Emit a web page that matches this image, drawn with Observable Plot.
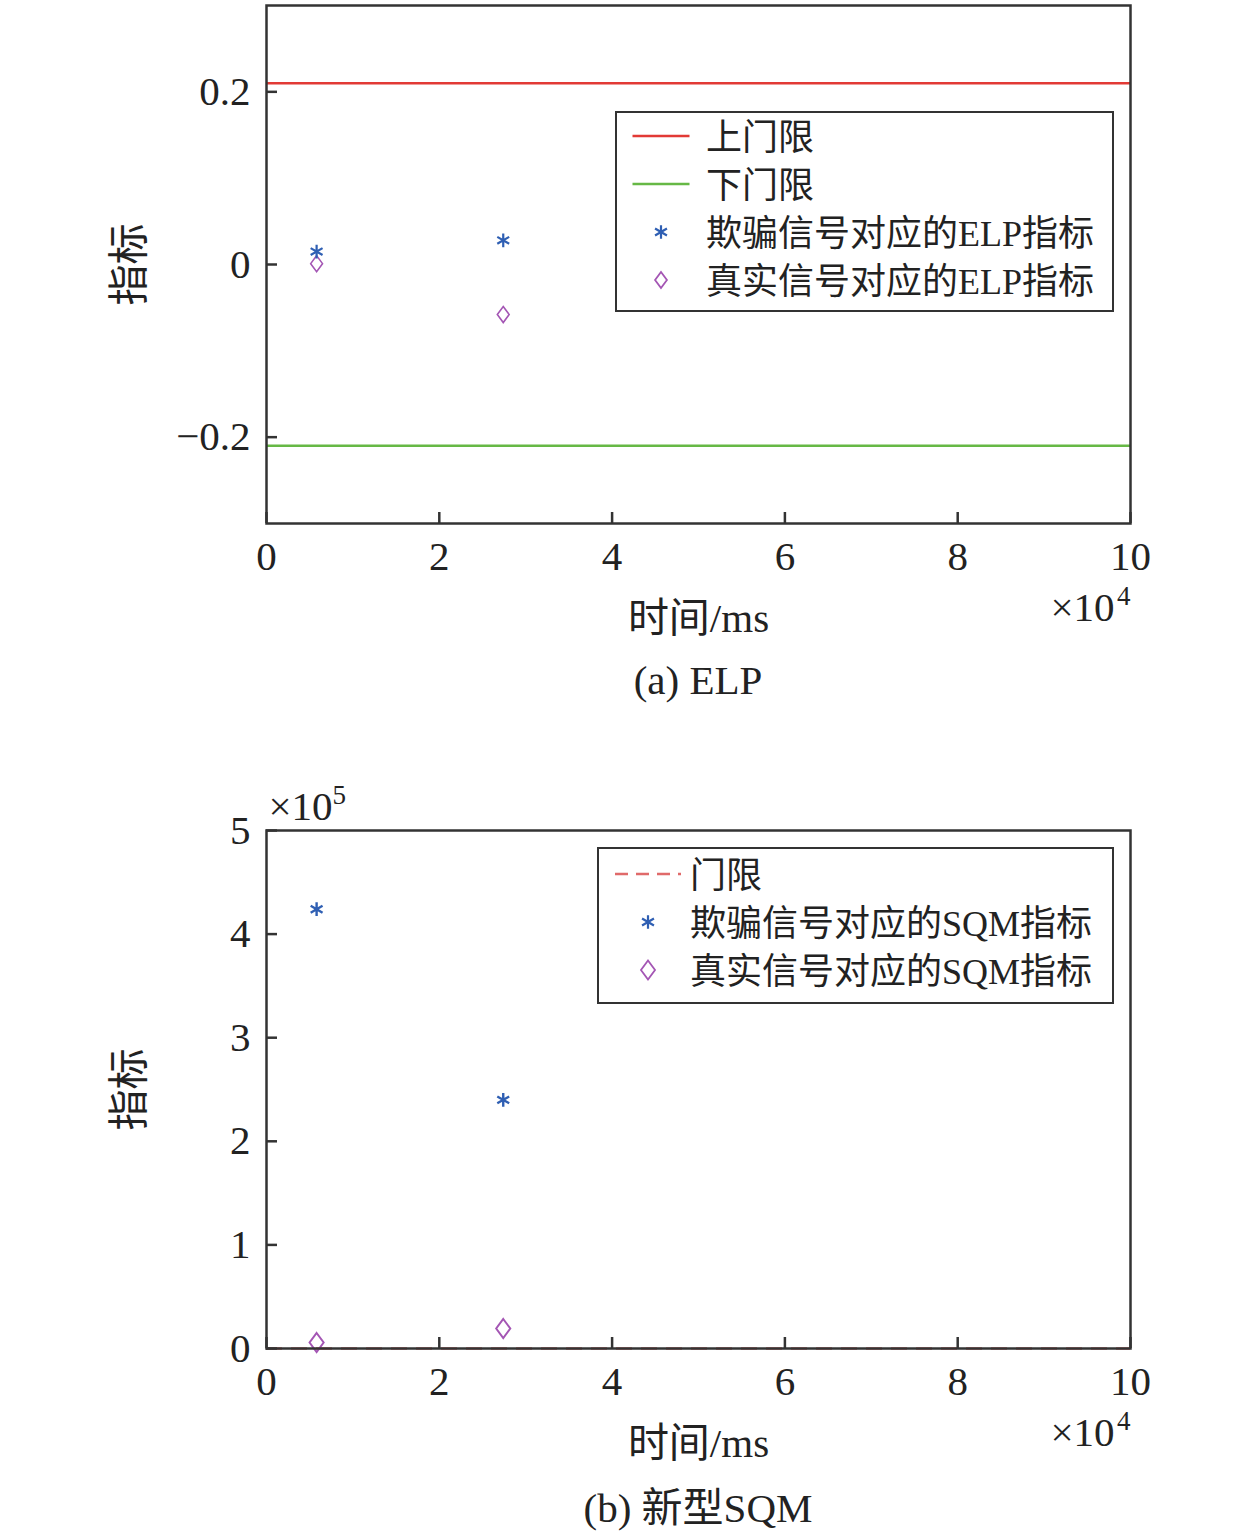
<!DOCTYPE html>
<html><head><meta charset="utf-8">
<script src="https://cdn.jsdelivr.net/npm/d3@7"></script>
<script src="https://cdn.jsdelivr.net/npm/@observablehq/plot@0.6"></script>
<style>
body{margin:0;background:#fff;font-family:"Liberation Serif","Noto Sans CJK SC",serif;color:#222;}
#wrap{position:relative;width:1260px;}
.cap{height:60px;line-height:60px;text-align:center;font-size:41px;color:#222;white-space:nowrap;width:1260px;box-sizing:border-box;padding-left:136px;}
.legend{position:absolute;border:2px solid #333;background:#fff;box-sizing:border-box;font-size:36px;color:#222;}
.row{position:absolute;left:0;height:48px;width:100%;}
.row svg{position:absolute;left:0;top:0;}
.row span{position:absolute;top:0;line-height:48px;white-space:nowrap;}
</style></head>
<body><div id="wrap"></div>
<script>
// ---------- data ----------
const xTicks = [0, 20000, 40000, 60000, 80000, 100000];
const times = [5800, 27400];                 // ms
const elpSpoof = [0.015, 0.028];
const elpReal = [0.001, -0.058];
const elpUpper = [0.21];
const elpLower = [-0.21];
const elpYTicks = [-0.2, 0, 0.2];
const sqmSpoof = [424000, 240000];
const sqmReal = [5800, 19300];
const sqmThreshold = [0];
const sqmYTicks = [0, 100000, 200000, 300000, 400000, 500000];
const captionA = "(a) ELP";
const captionB = "(b) 新型SQM";
const legendA = ["上门限", "下门限", "欺骗信号对应的ELP指标", "真实信号对应的ELP指标"];
const legendB = ["门限", "欺骗信号对应的SQM指标", "真实信号对应的SQM指标"];

// ---------- style ----------
const W = 1260, ML = 266, MR = 130;
const FONT = '"Liberation Serif","Noto Sans CJK SC",serif';
const RED = "#e23a35", GREEN = "#66b845", BLUE = "#2f5fb3", PURPLE = "#a456b4", DASHRED = "#e06a6a", INK = "#333";

const diamond = {
  draw(ctx, size) {
    const r = Math.sqrt(size / Math.PI);
    const h = r, w = r * 0.74;
    ctx.moveTo(0, -h); ctx.lineTo(w, 0); ctx.lineTo(0, h); ctx.lineTo(-w, 0); ctx.closePath();
  }
};

const T = (s, o) => Plot.text([s], {text: d => d, fontSize: 41, fill: "#222", lineAnchor: "middle", ...o});

function chart({height, marginTop, marginBottom, yDomain, yTicks, yFmt, marks, exp}) {
  const plotH = height - marginTop - marginBottom;
  const plotW = W - ML - MR;
  return Plot.plot({
    width: W, height, marginLeft: ML, marginRight: MR, marginTop, marginBottom,
    style: {fontFamily: FONT, fontSize: "41px", color: "#222", background: "#fff", overflow: "visible"},
    x: {domain: [0, 100000], ticks: xTicks, tickFormat: d => d / 1e4, tickSize: 0, tickPadding: 17, label: null},
    y: {domain: yDomain, ticks: yTicks, tickFormat: yFmt, tickSize: 0, tickPadding: 16, label: null},
    marks: [
      ...marks,
      Plot.tickX(xTicks, {x: d => d, stroke: INK, strokeWidth: 2.5, insetTop: plotH - 11}),
      Plot.tickY(yTicks, {y: d => d, stroke: INK, strokeWidth: 2.5, insetRight: plotW - 11}),
      Plot.frame({stroke: INK, strokeWidth: 2.5}),
      T("指标", {frameAnchor: "left", textAnchor: "middle", dx: -137, rotate: -90}),
      T("时间/ms", {frameAnchor: "bottom", textAnchor: "middle", dy: 95}),
      T("×10", {frameAnchor: "bottom-right", textAnchor: "end", dx: -16, dy: 84}),
      T("4", {frameAnchor: "bottom-right", textAnchor: "end", dx: 0, dy: 73, fontSize: 27}),
      ...(exp ? [
        T("×10", {frameAnchor: "top-left", textAnchor: "start", dx: 2, dy: -24}),
        T(exp, {frameAnchor: "top-left", textAnchor: "start", dx: 66, dy: -35, fontSize: 27})
      ] : [])
    ]
  });
}

const fmtSign = d => (d < 0 ? "\u2212" + Math.abs(d) : String(d));

const svgA = chart({
  height: 650, marginTop: 5, marginBottom: 127,
  yDomain: [-0.3, 0.3], yTicks: elpYTicks, yFmt: fmtSign,
  marks: [
    Plot.ruleY(elpUpper, {y: d => d, stroke: RED, strokeWidth: 2.5}),
    Plot.ruleY(elpLower, {y: d => d, stroke: GREEN, strokeWidth: 2.5}),
    Plot.dot(times, {x: d => d, y: (d, i) => elpReal[i], symbol: diamond, r: 8, stroke: PURPLE, strokeWidth: 1.6, fill: "none"}),
    Plot.dot(times, {x: d => d, y: (d, i) => elpSpoof[i], symbol: "asterisk", r: 6.5, stroke: BLUE, strokeWidth: 2.2})
  ]
});

const svgB = chart({
  height: 768, marginTop: 120, marginBottom: 130,
  yDomain: [0, 500000], yTicks: sqmYTicks, yFmt: d => d / 1e5,
  exp: "5",
  marks: [
    Plot.ruleY(sqmThreshold, {y: d => d, stroke: DASHRED, strokeWidth: 2.5, strokeDasharray: "16,9"}),
    Plot.dot(times, {x: d => d, y: (d, i) => sqmReal[i], symbol: diamond, r: 9.5, stroke: PURPLE, strokeWidth: 2, fill: "none"}),
    Plot.dot(times, {x: d => d, y: (d, i) => sqmSpoof[i], symbol: "asterisk", r: 6.5, stroke: BLUE, strokeWidth: 2.4})
  ]
});

const wrap = document.getElementById("wrap");
function cap(t) { const d = document.createElement("div"); d.className = "cap"; d.textContent = t; return d; }
wrap.append(svgA, cap(captionA), svgB, cap(captionB));

// ---------- legends (HTML overlays) ----------
function swatch(kind, color, cx, w) {
  const ns = "http://www.w3.org/2000/svg";
  const s = document.createElementNS(ns, "svg");
  s.setAttribute("width", 100); s.setAttribute("height", 48);
  if (kind === "line" || kind === "dash") {
    const l = document.createElementNS(ns, "line");
    l.setAttribute("x1", cx - w / 2); l.setAttribute("x2", cx + w / 2);
    l.setAttribute("y1", 24); l.setAttribute("y2", 24);
    l.setAttribute("stroke", color); l.setAttribute("stroke-width", 2.5);
    if (kind === "dash") l.setAttribute("stroke-dasharray", "13,8");
    s.append(l);
  } else {
    const p = document.createElementNS(ns, "path");
    const r = kind === "dia" ? w : 6.5;
    const size = Math.PI * r * r;
    const sym = kind === "dia" ? diamond : d3.symbolAsterisk;
    p.setAttribute("d", d3.symbol(sym, size)());
    p.setAttribute("transform", `translate(${cx},24)`);
    p.setAttribute("fill", "none"); p.setAttribute("stroke", color);
    p.setAttribute("stroke-width", kind === "dia" ? 1.8 : 2.2);
    s.append(p);
  }
  return s;
}
function legend(box, rows) {
  const lg = document.createElement("div");
  lg.className = "legend";
  Object.assign(lg.style, {left: box.left + "px", top: box.top + "px", width: box.width + "px", height: box.height + "px"});
  rows.forEach(r => {
    const row = document.createElement("div");
    row.className = "row";
    row.style.top = (r.cy - box.top - 24 - 2) + "px";
    row.append(swatch(r.kind, r.color, r.cx - box.left - 2, r.w));
    const sp = document.createElement("span");
    sp.textContent = r.label;
    sp.style.left = (box.textX - box.left - 2) + "px";
    sp.style.top = "2px";
    row.append(sp);
    lg.append(row);
  });
  wrap.append(lg);
}
legend({left: 615, top: 111, width: 499, height: 201, textX: 706}, [
  {kind: "line", color: RED, cx: 661, w: 57, cy: 136, label: legendA[0]},
  {kind: "line", color: GREEN, cx: 661, w: 57, cy: 184, label: legendA[1]},
  {kind: "star", color: BLUE, cx: 661, w: 6, cy: 232, label: legendA[2]},
  {kind: "dia", color: PURPLE, cx: 661, w: 8, cy: 280, label: legendA[3]}
]);
legend({left: 597, top: 710 + 137, width: 517, height: 157, textX: 690}, [
  {kind: "dash", color: DASHRED, cx: 648, w: 66, cy: 874, label: legendB[0]},
  {kind: "star", color: BLUE, cx: 648, w: 6, cy: 922, label: legendB[1]},
  {kind: "dia", color: PURPLE, cx: 648, w: 9.5, cy: 970, label: legendB[2]}
]);
</script>
</body></html>
